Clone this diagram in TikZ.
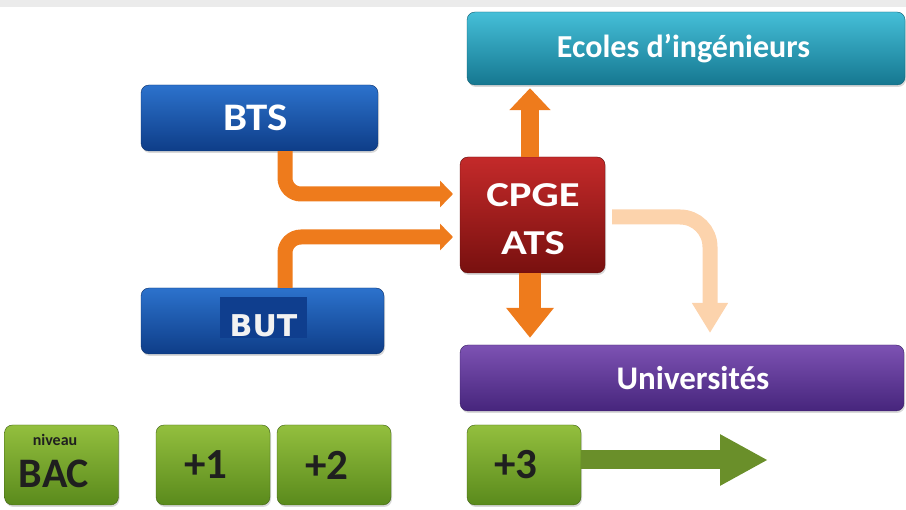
\documentclass[tikz,border=0pt]{standalone}
\usepackage{fontspec}
\setmainfont{Carlito}
\newfontfamily\butfont{DejaVu Sans}
\usetikzlibrary{arrows.meta,shadows,calc}
\definecolor{teal1}{HTML}{45BFD8}
\definecolor{teal2}{HTML}{157790}
\definecolor{blue1}{HTML}{2C72CC}
\definecolor{blue2}{HTML}{0E3D88}
\definecolor{red1}{HTML}{C42A2A}
\definecolor{red2}{HTML}{78100F}
\definecolor{purp1}{HTML}{7D52B3}
\definecolor{purp2}{HTML}{46257C}
\definecolor{grn1}{HTML}{93BF3E}
\definecolor{grn2}{HTML}{5A8A1C}
\definecolor{orng}{HTML}{EE7B1C}
\definecolor{peach}{HTML}{FCD3AC}
\definecolor{garrow}{HTML}{6A8F2A}
\definecolor{butbg}{HTML}{0F3E8E}
\tikzset{
  boxbase/.style={rounded corners=8pt, inner sep=0pt, font=\bfseries, text=white,
    drop shadow={shadow xshift=1pt, shadow yshift=-2pt, opacity=0.3}},
  tealbox/.style={boxbase, top color=teal1, bottom color=teal2, draw=teal2!80!black},
  bluebox/.style={boxbase, top color=blue1, bottom color=blue2, draw=blue2!80!black},
  redbox/.style={boxbase, top color=red1, bottom color=red2, draw=red2!80!black},
  purpbox/.style={boxbase, top color=purp1, bottom color=purp2, draw=purp2!80!black},
  grnbox/.style={boxbase, top color=grn1, bottom color=grn2, draw=grn2!70!black, text=black!88, minimum width=114pt, minimum height=80pt},
  grnlbl/.style={font=\bfseries\fontsize{43}{45}\selectfont},
  orarrow/.style={draw=orng, line width=15pt},
}
\begin{document}
\begin{tikzpicture}[x=1pt,y=-1pt]
\useasboundingbox (0,0) rectangle (906,510);
\fill[black!8] (0,0) rectangle (906,7);

\node[tealbox, minimum width=438pt, minimum height=73pt, font=\bfseries\fontsize{32}{36}\selectfont] (ecoles) at (686,48.5) {Ecoles d’ingénieurs\kern5pt};
\node[bluebox, minimum width=237pt, minimum height=66pt, font=\bfseries\fontsize{39}{40}\selectfont] (bts) at (259.5,118) {\scalebox{1.1}[1]{BTS}\kern8pt};
\node[redbox, minimum width=145pt, minimum height=116pt] (cpge) at (532.5,215) {};
\node[align=center, text=white, inner sep=0pt, font=\bfseries\fontsize{35}{48}\selectfont] (cpgelbl) at (533,219) {\scalebox{1.22}[1]{CPGE}\\\scalebox{1.22}[1]{ATS}};
\node[bluebox, minimum width=243pt, minimum height=66pt] (but) at (262.5,321) {};
\node[fill=butbg, minimum width=87pt, minimum height=41pt, inner sep=0pt] (butbox) at (263.5,317.5) {};
\node[text=black!5, inner sep=0pt, font=\butfont\bfseries\fontsize{30}{30}\selectfont] (butlbl) at (263.5,326) {BUT};
\node[purpbox, minimum width=444pt, minimum height=66pt, font=\bfseries\fontsize{33}{36}\selectfont] (univ) at (682,378) {\kern22pt Universités};

\node[grnbox] (bac) at (61.5,465) {};
\node[font=\bfseries\fontsize{16}{16}\selectfont, text=black!88] (niveau) at (55,440) {niveau};
\node[font=\bfseries\fontsize{42}{44}\selectfont, text=black!88] (baclbl) at (54,474) {BAC};
\node[grnbox, grnlbl] (p1) at (213,465) {+1\kern14pt};
\node[grnbox, grnlbl] (p2) at (334,465) {+2\kern14pt};
\node[grnbox, grnlbl] (p3) at (524,465) {+3\kern16pt};

% green arrow
\coordinate (gtip) at (768,460);
\draw[garrow, line width=19pt, -{Triangle[length=48pt,width=48pt]}] (p3.east |- gtip) -- (gtip);

% orange arrows from BTS and BUT
\coordinate (btsin) at (453,194);
\coordinate (butin) at (453,237);
\draw[orarrow, rounded corners=16pt, -{Triangle[length=13pt,width=26pt]}] (bts.south -| 285,0) |- (btsin);
\draw[orarrow, rounded corners=16pt, -{Triangle[length=13pt,width=26pt]}] (but.north -| 285,0) |- (butin);

% up and down arrows
\draw[orng, line width=18pt, -{Triangle[length=22pt,width=40pt]}] (cpge.north -| 530,0) -- ($(ecoles.south -| 530,0)+(0,3)$);
\draw[orng, line width=22pt, -{Triangle[length=30pt,width=46pt]}] (cpge.south -| 530,0) -- ($(univ.north -| 530,0)+(0,-7)$);

% peach arrow
\coordinate (pk) at (710,333);
\draw[peach, line width=15pt, rounded corners=30pt, -{Triangle[length=30pt,width=34pt]}] ($(cpge.east |- 0,217)+(7,0)$) -| (pk);
\end{tikzpicture}
\end{document}
